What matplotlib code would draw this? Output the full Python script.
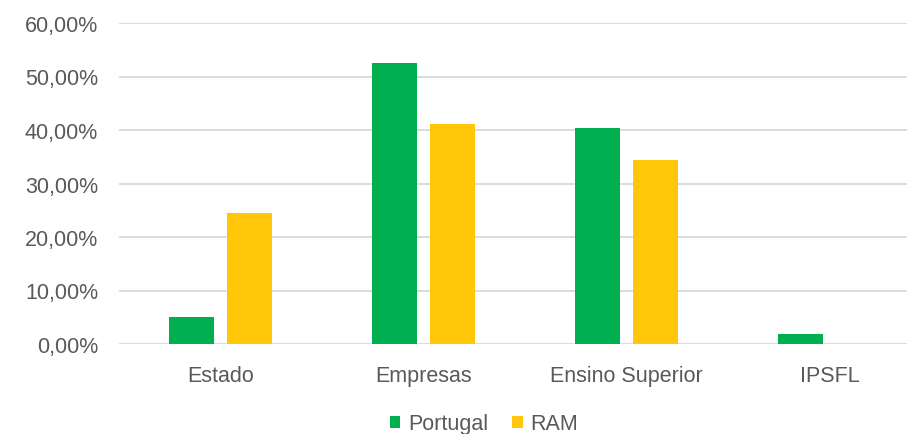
import matplotlib
matplotlib.use("Agg")
import matplotlib.pyplot as plt
import numpy as np
from matplotlib.ticker import FuncFormatter

categories = ["Estado", "Empresas", "Ensino Superior", "IPSFL"]
portugal = [5.1, 52.5, 40.4, 1.8]
ram = [24.4, 41.1, 34.3, 0.0]
series_names = ["Portugal", "RAM"]
yticks = [0, 10, 20, 30, 40, 50, 60]

plt.rcParams['font.family'] = ['Liberation Sans', 'DejaVu Sans']
txt = '#595959'
fs = 15.5

fig = plt.figure(figsize=(9.07, 4.35), dpi=100)
ax = fig.add_axes([119/907, 90/435, 812/907, 321/435])

x = np.arange(len(categories))
w = 0.222
off = 0.143
ax.bar(x - off, portugal, width=w, color='#00B050', label=series_names[0], zorder=3)
ax.bar(x + off, ram, width=w, color='#FFC60A', label=series_names[1], zorder=3)

ax.set_xlim(-0.5, len(categories) - 0.5)
ax.set_ylim(0, 60)
ax.set_yticks(yticks)
ax.yaxis.set_major_formatter(FuncFormatter(lambda v, p: f"{v:.2f}%".replace('.', ',')))
ax.set_xticks(x)
ax.set_xticklabels(categories)
ax.grid(axis='y', color='#d9d9d9', linewidth=1.3, zorder=0)
for s in ax.spines.values():
    s.set_visible(False)
ax.tick_params(axis='both', length=0, labelsize=fs, colors=txt)
ax.tick_params(axis='y', pad=15)
ax.tick_params(axis='x', pad=15)

fig.legend(loc='center', bbox_to_anchor=(484/907, 1 - 425/435), ncol=2, frameon=False,
           fontsize=fs, labelcolor=txt, handlelength=0.49, handleheight=0.49,
           handletextpad=0.37, columnspacing=1.1, borderpad=0)

fig.savefig('out.png', dpi=100)
